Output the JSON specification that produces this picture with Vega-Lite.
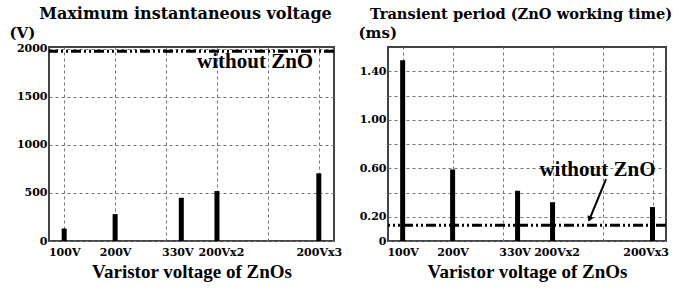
{
  "$schema": "https://vega.github.io/schema/vega-lite/v6.json",
  "background": "white",
  "padding": {"left": 8, "top": 5, "right": 0, "bottom": 0},
  "autosize": {"type": "pad"},
  "bounds": "flush",
  "spacing": 54,
  "config": {
    "font": "DejaVu Serif",
    "view": {"stroke": "#444", "strokeWidth": 2},
    "axis": {
      "labelFont": "DejaVu Serif", "labelFontWeight": "bold", "labelFontSize": 11, "labelColor": "black",
      "titleFont": "Liberation Serif", "titleFontWeight": "bold", "titleColor": "black",
      "gridColor": "#777", "gridDash": [3, 3], "gridWidth": 1, "gridOpacity": 1,
      "ticks": false, "domain": false, "labelOverlap": false
    },
    "title": {"font": "DejaVu Serif", "fontWeight": "bold", "fontSize": 16, "color": "black", "anchor": "middle", "offset": 3}
  },
  "datasets": {
    "zno": [
      {"v": 100, "label": "100V", "max_voltage": 130, "period": 1.49},
      {"v": 200, "label": "200V", "max_voltage": 280, "period": 0.59},
      {"v": 330, "label": "330V", "max_voltage": 450, "period": 0.415},
      {"v": 400, "label": "200Vx2", "max_voltage": 520, "period": 0.32},
      {"v": 600, "label": "200Vx3", "max_voltage": 705, "period": 0.28}
    ],
    "without": [
      {"panel": "left", "value": 1975},
      {"panel": "right", "value": 0.13}
    ],
    "notes": [
      {"panel": "left", "text": "without ZnO", "x": 589, "y": 1802},
      {"panel": "right", "text": "without ZnO", "x": 606, "y": 0.536}
    ],
    "arrow": [
      {"x": 507, "y": 0.51, "x2": 476, "y2": 0.2}
    ],
    "arrowhead": [
      {"x": 474, "y": 0.18}
    ]
  },
  "hconcat": [
    {
      "width": 285,
      "height": 194,
      "title": {"text": "Maximum instantaneous voltage", "dx": -6},
      "resolve": {"axis": {"x": "independent"}},
      "layer": [
        {
          "data": {"name": "zno"},
          "mark": {"type": "bar", "size": 5, "color": "black"},
          "encoding": {
            "x": {"field": "v", "type": "quantitative", "scale": {"domain": [80, 620], "nice": false, "zero": false},
              "axis": {"orient": "bottom", "values": [100, 200, 330, 400, 600], "grid": false, "labelPadding": 5,
                "labelExpr": "datum.value == 100 ? '100V' : datum.value == 200 ? '200V' : datum.value == 330 ? '330V' : datum.value == 400 ? '200Vx2' : '200Vx3'",
                "labelOffset": {"condition": [{"test": "datum.value == 330", "value": -4}, {"test": "datum.value == 400", "value": 4}], "value": 0},
                "title": "Varistor voltage of ZnOs", "titleFontSize": 19, "titlePadding": 5}},
            "y": {"field": "max_voltage", "type": "quantitative", "scale": {"domain": [0, 2020], "nice": false},
              "axis": {"values": [0, 500, 1000, 1500, 2000], "format": "d", "grid": true, "labelPadding": 2, "title": "(V)", "titleAngle": 0,
                "titleAlign": "left", "titleBaseline": "alphabetic", "titleX": -40, "titleY": -10, "titleFontSize": 15, "titleFont": "DejaVu Serif"}}
          }
        },
        {
          "data": {"name": "without"},
          "transform": [{"filter": "datum.panel == 'left'"}],
          "mark": {"type": "rule", "color": "black", "strokeWidth": 3, "strokeDash": [10, 3, 2, 3, 2, 3]},
          "encoding": {
            "y": {"field": "value", "type": "quantitative",
              "axis": {"values": [0, 500, 1000, 1500, 2000], "format": "d", "grid": true, "labelPadding": 2, "title": "(V)", "titleAngle": 0,
                "titleAlign": "left", "titleBaseline": "alphabetic", "titleX": -40, "titleY": -10, "titleFontSize": 15, "titleFont": "DejaVu Serif"}}
          }
        },
        {
          "data": {"name": "notes"},
          "transform": [{"filter": "datum.panel == 'left'"}],
          "mark": {"type": "text", "align": "right", "baseline": "alphabetic", "font": "Liberation Serif", "fontWeight": "bold", "fontSize": 21, "color": "black"},
          "encoding": {
            "x": {"field": "x", "type": "quantitative", "scale": {"domain": [80, 620], "nice": false, "zero": false},
              "axis": {"orient": "top", "values": [100, 200, 300, 400, 500, 600], "grid": true, "labels": false, "title": null}},
            "y": {"field": "y", "type": "quantitative",
              "axis": {"values": [0, 500, 1000, 1500, 2000], "format": "d", "grid": true, "labelPadding": 2, "title": "(V)", "titleAngle": 0,
                "titleAlign": "left", "titleBaseline": "alphabetic", "titleX": -40, "titleY": -10, "titleFontSize": 15, "titleFont": "DejaVu Serif"}},
            "text": {"field": "text"}
          }
        }
      ]
    },
    {
      "width": 278,
      "height": 194,
      "title": {"text": "Transient period (ZnO working time)", "fontSize": 14.6, "dx": -6},
      "resolve": {"axis": {"x": "independent"}},
      "layer": [
        {
          "data": {"name": "zno"},
          "mark": {"type": "bar", "size": 5, "color": "black"},
          "encoding": {
            "x": {"field": "v", "type": "quantitative", "scale": {"domain": [80.7, 617], "nice": false, "zero": false},
              "axis": {"orient": "bottom", "values": [100, 200, 330, 400, 600], "grid": false, "labelPadding": 5,
                "labelExpr": "datum.value == 100 ? '100V' : datum.value == 200 ? '200V' : datum.value == 330 ? '330V' : datum.value == 400 ? '200Vx2' : '200Vx3'",
                "labelAlign": {"condition": {"test": "datum.value == 600", "value": "right"}, "value": "center"},
                "labelOffset": {"condition": [{"test": "datum.value == 600", "value": 16}, {"test": "datum.value == 330", "value": -3}, {"test": "datum.value == 400", "value": 4}], "value": 0},
                "title": "Varistor voltage of ZnOs", "titleFontSize": 19, "titlePadding": 5}},
            "y": {"field": "period", "type": "quantitative", "scale": {"domain": [0, 1.6], "nice": false},
              "axis": {"values": [0, 0.2, 0.4, 0.6, 0.8, 1, 1.2, 1.4], "grid": true, "labelPadding": 2,
                "labelExpr": "datum.value == 0 ? '0' : (abs(datum.value - 0.2) < 0.01 || abs(datum.value - 0.6) < 0.01 || abs(datum.value - 1) < 0.01 || abs(datum.value - 1.4) < 0.01) ? format(datum.value, '.2f') : ''",
                "title": "(ms)", "titleAngle": 0, "titleAlign": "left", "titleBaseline": "alphabetic",
                "titleX": -30, "titleY": -10, "titleFontSize": 15, "titleFont": "DejaVu Serif"}}
          }
        },
        {
          "data": {"name": "without"},
          "transform": [{"filter": "datum.panel == 'right'"}],
          "mark": {"type": "rule", "color": "black", "strokeWidth": 3, "strokeDash": [10, 3, 2, 3, 2, 3]},
          "encoding": {
            "y": {"field": "value", "type": "quantitative", "scale": {"domain": [0, 1.6], "nice": false},
              "axis": {"values": [0, 0.2, 0.4, 0.6, 0.8, 1, 1.2, 1.4], "grid": true, "labelPadding": 2,
                "labelExpr": "datum.value == 0 ? '0' : (abs(datum.value - 0.2) < 0.01 || abs(datum.value - 0.6) < 0.01 || abs(datum.value - 1) < 0.01 || abs(datum.value - 1.4) < 0.01) ? format(datum.value, '.2f') : ''",
                "title": "(ms)", "titleAngle": 0, "titleAlign": "left", "titleBaseline": "alphabetic",
                "titleX": -30, "titleY": -10, "titleFontSize": 15, "titleFont": "DejaVu Serif"}}
          }
        },
        {
          "data": {"name": "arrow"},
          "mark": {"type": "rule", "color": "black", "strokeWidth": 2},
          "encoding": {
            "x": {"field": "x", "type": "quantitative", "axis": null},
            "x2": {"field": "x2"},
            "y": {"field": "y", "type": "quantitative", "scale": {"domain": [0, 1.6], "nice": false},
              "axis": {"values": [0, 0.2, 0.4, 0.6, 0.8, 1, 1.2, 1.4], "grid": true, "labelPadding": 2,
                "labelExpr": "datum.value == 0 ? '0' : (abs(datum.value - 0.2) < 0.01 || abs(datum.value - 0.6) < 0.01 || abs(datum.value - 1) < 0.01 || abs(datum.value - 1.4) < 0.01) ? format(datum.value, '.2f') : ''",
                "title": "(ms)", "titleAngle": 0, "titleAlign": "left", "titleBaseline": "alphabetic",
                "titleX": -30, "titleY": -10, "titleFontSize": 15, "titleFont": "DejaVu Serif"}},
            "y2": {"field": "y2"}
          }
        },
        {
          "data": {"name": "arrowhead"},
          "mark": {"type": "point", "shape": "triangle-up", "filled": true, "color": "black", "opacity": 1, "size": 45, "angle": 203},
          "encoding": {
            "x": {"field": "x", "type": "quantitative", "axis": null},
            "y": {"field": "y", "type": "quantitative", "scale": {"domain": [0, 1.6], "nice": false},
              "axis": {"values": [0, 0.2, 0.4, 0.6, 0.8, 1, 1.2, 1.4], "grid": true, "labelPadding": 2,
                "labelExpr": "datum.value == 0 ? '0' : (abs(datum.value - 0.2) < 0.01 || abs(datum.value - 0.6) < 0.01 || abs(datum.value - 1) < 0.01 || abs(datum.value - 1.4) < 0.01) ? format(datum.value, '.2f') : ''",
                "title": "(ms)", "titleAngle": 0, "titleAlign": "left", "titleBaseline": "alphabetic",
                "titleX": -30, "titleY": -10, "titleFontSize": 15, "titleFont": "DejaVu Serif"}}
          }
        },
        {
          "data": {"name": "notes"},
          "transform": [{"filter": "datum.panel == 'right'"}],
          "mark": {"type": "text", "align": "right", "baseline": "alphabetic", "font": "Liberation Serif", "fontWeight": "bold", "fontSize": 21, "color": "black"},
          "encoding": {
            "x": {"field": "x", "type": "quantitative", "scale": {"domain": [80.7, 617], "nice": false, "zero": false},
              "axis": {"orient": "top", "values": [100, 200, 300, 400, 500, 600], "grid": true, "labels": false, "title": null}},
            "y": {"field": "y", "type": "quantitative", "scale": {"domain": [0, 1.6], "nice": false},
              "axis": {"values": [0, 0.2, 0.4, 0.6, 0.8, 1, 1.2, 1.4], "grid": true, "labelPadding": 2,
                "labelExpr": "datum.value == 0 ? '0' : (abs(datum.value - 0.2) < 0.01 || abs(datum.value - 0.6) < 0.01 || abs(datum.value - 1) < 0.01 || abs(datum.value - 1.4) < 0.01) ? format(datum.value, '.2f') : ''",
                "title": "(ms)", "titleAngle": 0, "titleAlign": "left", "titleBaseline": "alphabetic",
                "titleX": -30, "titleY": -10, "titleFontSize": 15, "titleFont": "DejaVu Serif"}},
            "text": {"field": "text"}
          }
        }
      ]
    }
  ]
}
